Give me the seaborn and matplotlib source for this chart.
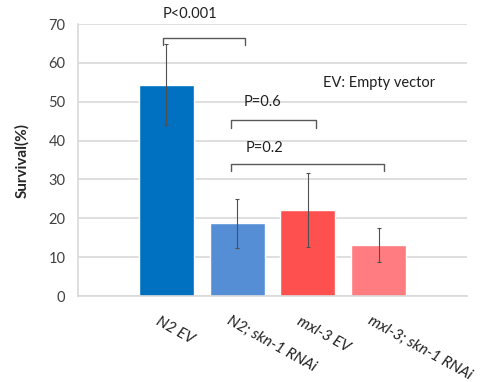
import matplotlib
matplotlib.use("Agg")
import matplotlib.pyplot as plt
import matplotlib.transforms as mtrans
import seaborn as sns
import pandas as pd

categories = ["N2 EV", "N2; skn-1 RNAi", "mxl-3 EV", "mxl-3; skn-1 RNAi"]
survival = [54.4, 18.7, 22.1, 13.1]
errors = [10.4, 6.4, 9.6, 4.3]
colors = ["#0070C0", "#558ED5", "#FF5050", "#FF7C80"]
yticks = [0, 10, 20, 30, 40, 50, 60, 70]
# comparisons: bracket start, end, height, label, label left x, label y
brackets = [(-0.05, 1.11, 66.5, "P<0.001", -0.05, 72.5),
            (0.92, 2.11, 45.2, "P=0.6", 1.09, 49.9),
            (0.92, 3.08, 34.1, "P=0.2", 1.12, 38.0)]

sns.set_theme(style="white")
plt.rcParams['font.family'] = ['Lato', 'DejaVu Sans']
FS = 10.5

df = pd.DataFrame({"group": categories, "survival": survival})

fig = plt.figure(figsize=(4.81, 3.82), dpi=100)
ax = fig.add_axes([0.162, 0.225, 0.809, 0.712])

sns.barplot(data=df, x="group", y="survival", hue="group", palette=colors,
            legend=False, width=0.78, ax=ax, saturation=1, errorbar=None)
ax.errorbar(range(len(categories)), survival, yerr=errors, fmt="none",
            ecolor="#505050", elinewidth=0.8, capsize=1.5, capthick=0.8)

ax.set_xlim(-1.25, 4.25)
ax.set_ylim(0, 70)
ax.set_yticks(yticks)
ax.yaxis.grid(True, color="#D9D9D9", linewidth=1.2)
ax.set_axisbelow(True)
for s in ["top", "right"]:
    ax.spines[s].set_visible(False)
ax.spines["left"].set_color("#D9D9D9")
ax.spines["bottom"].set_color("#D9D9D9")
ax.spines["left"].set_linewidth(1.2)
ax.spines["bottom"].set_linewidth(1.2)

ax.tick_params(axis="y", labelsize=FS, labelcolor="#404040", length=0, pad=9)
ax.tick_params(axis="x", length=0)
ax.set_xlabel("")
ax.set_ylabel("Survival(%)", fontsize=11, fontweight="bold", labelpad=14)

offset = mtrans.ScaledTranslation(-0.13, -0.13, fig.dpi_scale_trans)
ax.set_xticks(range(len(categories)))
ax.set_xticklabels(categories, rotation=-29, ha="left", va="top",
                   fontsize=11, style="italic", color="#202020")
for lbl in ax.get_xticklabels():
    lbl.set_transform(lbl.get_transform() + offset)
    lbl.set_clip_on(False)

for x0, x1, h, txt, tx, ty in brackets:
    ax.plot([x0, x0, x1, x1], [h - 2, h, h, h - 2], color="#595959",
            linewidth=1.0, clip_on=False)
    ax.text(tx, ty, txt, ha="left", va="center",
            fontsize=FS, color="#202020", clip_on=False)

ax.text(3.0, 54.8, "EV: Empty vector", ha="center", va="center",
        fontsize=FS, color="#202020")

fig.savefig("out.png", dpi=100)
